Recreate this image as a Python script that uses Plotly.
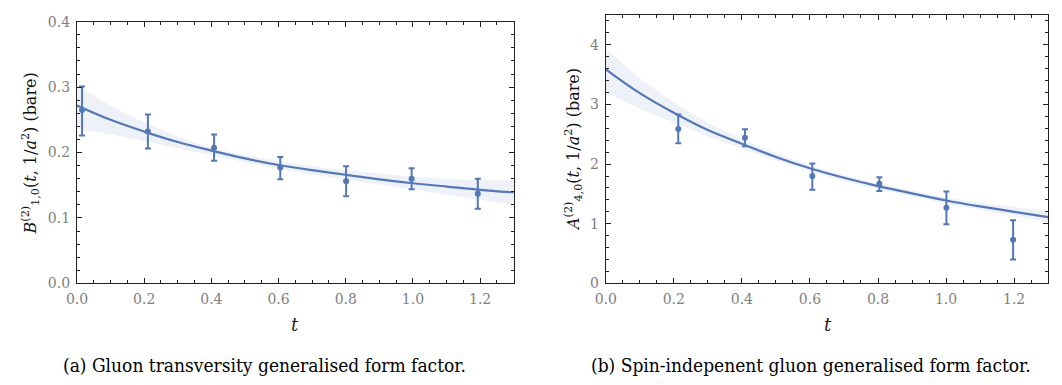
import plotly.graph_objects as go

# ---------------- data ----------------
# (a) gluon transversity GFF
t_a = [0.015, 0.211, 0.408, 0.605, 0.801, 0.996, 1.193]
val_a = [0.265, 0.232, 0.2075, 0.177, 0.156, 0.160, 0.137]
err_up_a = [0.036, 0.026, 0.020, 0.016, 0.023, 0.016, 0.023]
err_dn_a = [0.039, 0.026, 0.020, 0.018, 0.023, 0.016, 0.023]

fit_t = [0.0, 0.1, 0.2, 0.3, 0.4, 0.5, 0.6, 0.7, 0.8, 0.9, 1.0, 1.1, 1.2, 1.3]
fit_a = [0.272, 0.250, 0.232, 0.216, 0.203, 0.191, 0.181, 0.173, 0.166, 0.159, 0.153, 0.148, 0.143, 0.139]
band_hi_a = [0.303, 0.271, 0.246, 0.224, 0.207, 0.196, 0.187, 0.179, 0.173, 0.168, 0.163, 0.160, 0.158, 0.157]
band_lo_a = [0.236, 0.228, 0.217, 0.206, 0.196, 0.185, 0.175, 0.166, 0.158, 0.151, 0.144, 0.136, 0.128, 0.120]

# (b) spin-independent gluon GFF
t_b = [0.213, 0.409, 0.607, 0.804, 1.001, 1.197]
val_b = [2.59, 2.44, 1.80, 1.67, 1.27, 0.73]
err_up_b = [0.24, 0.145, 0.21, 0.11, 0.27, 0.33]
err_dn_b = [0.24, 0.14, 0.23, 0.12, 0.28, 0.33]

fit_b = [3.59, 3.19, 2.86, 2.57, 2.34, 2.12, 1.93, 1.77, 1.63, 1.51, 1.39, 1.29, 1.20, 1.11]
band_hi_b = [3.94, 3.44, 3.03, 2.69, 2.42, 2.18, 1.98, 1.81, 1.67, 1.55, 1.44, 1.35, 1.28, 1.21]
band_lo_b = [3.20, 2.93, 2.70, 2.46, 2.26, 2.06, 1.88, 1.72, 1.58, 1.46, 1.34, 1.23, 1.13, 1.03]

x_ticks = [0.0, 0.2, 0.4, 0.6, 0.8, 1.0, 1.2]
y_ticks_a = [0.0, 0.1, 0.2, 0.3, 0.4]
y_ticks_b = [0, 1, 2, 3, 4]

ylabel_a = "<i>B</i><sup>(2)</sup><sub>1,0</sub>(<i>t</i>, 1/<i>a</i><sup>2</sup>) (bare)"
ylabel_b = "<i>A</i><sup>(2)</sup><sub>4,0</sub>(<i>t</i>, 1/<i>a</i><sup>2</sup>) (bare)"
xlabel = "<i>t</i>"
caption_a = "(a) Gluon transversity generalised form factor."
caption_b = "(b) Spin-indepenent gluon generalised form factor."

# ---------------- style ----------------
BLUE = "#5478B6"
BAND = "rgba(84,120,182,0.10)"
SERIF = "DejaVu Serif"
CAPF = "DejaVu Serif Condensed, DejaVu Serif"
W, H = 1062, 385

fig = go.Figure()


def add_panel(xa, ya, t, v, eu, ed, fv, bh, bl):
    fig.add_trace(go.Scatter(
        x=fit_t + fit_t[::-1], y=bh + bl[::-1], fill="toself",
        fillcolor=BAND, line=dict(width=0), mode="lines",
        hoverinfo="skip", showlegend=False, xaxis=xa, yaxis=ya))
    fig.add_trace(go.Scatter(
        x=fit_t, y=fv, mode="lines", line=dict(color=BLUE, width=2.2, shape="spline"),
        showlegend=False, xaxis=xa, yaxis=ya))
    fig.add_trace(go.Scatter(
        x=t, y=v, mode="markers",
        marker=dict(color=BLUE, size=6),
        error_y=dict(type="data", symmetric=False, array=eu, arrayminus=ed,
                     color=BLUE, thickness=2, width=3),
        showlegend=False, xaxis=xa, yaxis=ya))


add_panel("x", "y", t_a, val_a, err_up_a, err_dn_a, fit_a, band_hi_a, band_lo_a)
add_panel("x2", "y2", t_b, val_b, err_up_b, err_dn_b, fit_b, band_hi_b, band_lo_b)

axis_common = dict(
    showline=True, linecolor="#222222", linewidth=1.2, mirror="allticks",
    ticks="inside", ticklen=5, tickwidth=1, tickcolor="#222222",
    showgrid=False, zeroline=False, ticklabelstandoff=3,
    tickfont=dict(family=SERIF, size=14, color="#808080"),
)

fig.update_layout(
    width=W, height=H,
    margin=dict(l=0, r=0, t=0, b=0),
    paper_bgcolor="white", plot_bgcolor="white",
    font=dict(family=SERIF),
    xaxis=dict(domain=[66.7 / W, 508 / W], range=[0, 1.3], tickvals=x_ticks,
               tickformat=".1f", anchor="y",
               minor=dict(dtick=0.05, tick0=0, ticks="inside", ticklen=3, tickcolor="#222222"),
               **axis_common),
    yaxis=dict(domain=[(H - 287.3) / H, (H - 14.3) / H], range=[0, 0.4], tickvals=y_ticks_a,
               tickformat=".1f", anchor="x",
               minor=dict(dtick=0.02, tick0=0, ticks="inside", ticklen=3, tickcolor="#222222"),
               **axis_common),
    xaxis2=dict(domain=[601 / W, 1048 / W], range=[0, 1.3], tickvals=x_ticks,
                tickformat=".1f", anchor="y2",
                minor=dict(dtick=0.05, tick0=0, ticks="inside", ticklen=3, tickcolor="#222222"),
                **axis_common),
    yaxis2=dict(domain=[(H - 287.3) / H, (H - 7.3) / H], range=[0, 4.5], tickvals=y_ticks_b,
                tickformat="d", anchor="x2",
                minor=dict(dtick=0.2, tick0=0, ticks="inside", ticklen=3, tickcolor="#222222"),
                **axis_common),
)


def px_ann(text, x, y, size, color="black", angle=0, family=SERIF):
    fig.add_annotation(text=text, x=x / W, y=(H - y) / H, xref="paper", yref="paper",
                       showarrow=False, textangle=angle, xanchor="center", yanchor="middle",
                       font=dict(family=family, size=size, color=color))


px_ann(ylabel_a, 20, 152, 16, "#111111", -90)
px_ann(ylabel_b, 569, 148, 16, "#111111", -90)
px_ann(xlabel, 287, 330, 18, "#222222")
px_ann(xlabel, 826, 330, 18, "#222222")
px_ann(caption_a, 256, 372, 19, family=CAPF)
px_ann(caption_b, 808, 372, 19, family=CAPF)

fig.write_html("out.html")
